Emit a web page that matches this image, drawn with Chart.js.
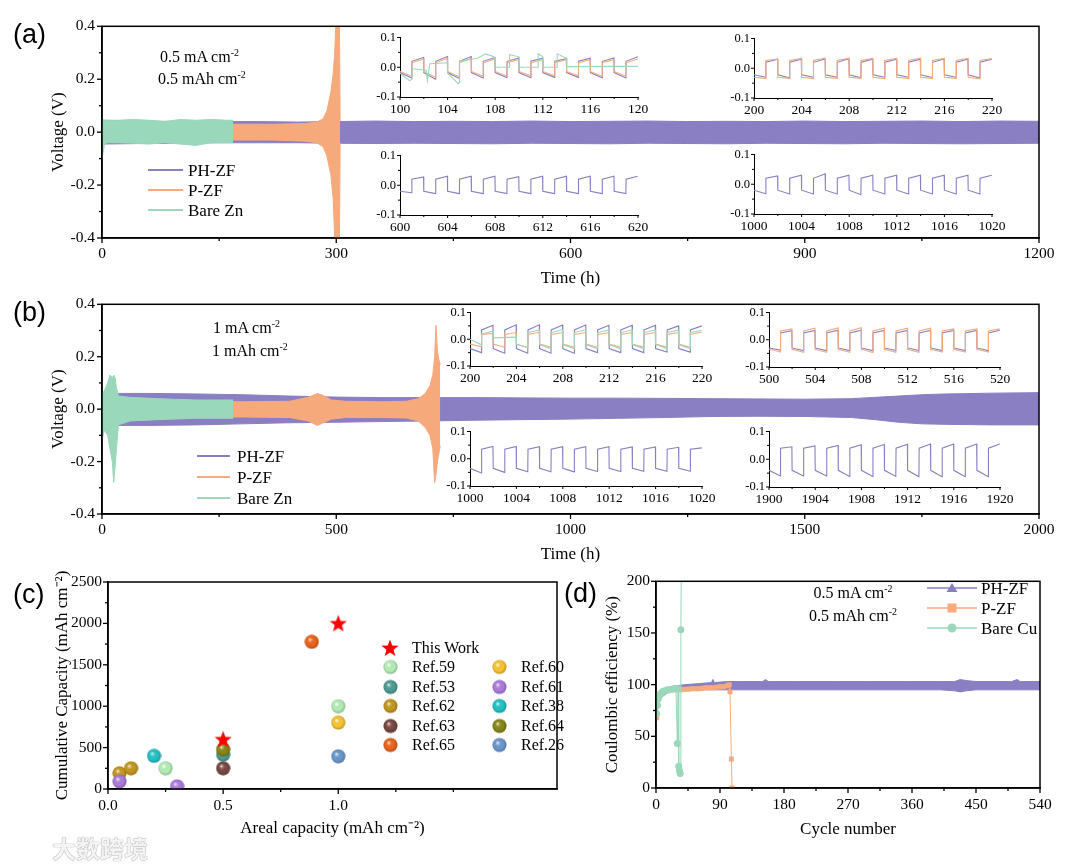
<!DOCTYPE html>
<html>
<head>
<meta charset="utf-8">
<script src="https://cdn.jsdelivr.net/npm/chart.js@4.4.1/dist/chart.umd.min.js"></script>
<style>
body { margin: 0; background: #fff; }
#fig { position: relative; width: 1080px; height: 865px; overflow: hidden; font-family: 'Liberation Serif', 'Times New Roman', serif; color: #000; }
#fig canvas { position: absolute; }
.t { position: absolute; white-space: nowrap; line-height: 1; transform: translateY(-50%); }
.ln { position: absolute; height: 0; }
sup { font-size: 0.62em; vertical-align: 0.6em; line-height: 0; }
</style>
</head>
<body>
<div id="fig"></div>
<script>
// ---- (a) 0.5 mA cm-2 symmetric cells: voltage envelopes (V) ----
const aPhT = [0, 50, 100, 150, 200, 250, 300, 350, 400, 450, 500, 550, 600, 650, 700, 750, 800, 850, 900, 950, 1000, 1050, 1100, 1150, 1200];
const aPhHi = [0.045, 0.042, 0.04, 0.04, 0.04, 0.038, 0.04, 0.042, 0.04, 0.041, 0.04, 0.042, 0.04, 0.041, 0.042, 0.04, 0.041, 0.04, 0.042, 0.04, 0.041, 0.042, 0.04, 0.042, 0.041];
const aPhLo = [-0.045, -0.043, -0.042, -0.04, -0.04, -0.04, -0.042, -0.043, -0.042, -0.043, -0.044, -0.042, -0.043, -0.044, -0.042, -0.043, -0.044, -0.042, -0.043, -0.044, -0.042, -0.043, -0.044, -0.043, -0.042];
const aPzT = [0, 170, 220, 260, 275, 283, 288, 293, 296, 298, 300, 302, 304, 305];
const aPzHi = [0.03, 0.03, 0.03, 0.033, 0.038, 0.05, 0.08, 0.15, 0.22, 0.3, 0.45, 0.45, 0.45, 0.04];
const aPzLo = [-0.03, -0.03, -0.03, -0.034, -0.04, -0.055, -0.09, -0.16, -0.25, -0.4, -0.45, -0.45, -0.45, -0.04];
const aBzT = [0, 3, 6, 20, 40, 60, 80, 100, 120, 140, 160, 168];
const aBzHi = [0.05, 0.045, 0.045, 0.045, 0.048, 0.045, 0.04, 0.048, 0.045, 0.048, 0.045, 0.045];
const aBzLo = [-0.1, -0.05, -0.04, -0.04, -0.042, -0.045, -0.04, -0.045, -0.05, -0.04, -0.04, -0.04];

// ---- (b) 1 mA cm-2 ----
const bPhT = [0, 30, 100, 200, 300, 400, 500, 600, 700, 800, 900, 1000, 1100, 1200, 1300, 1400, 1500, 1600, 1650, 1700, 1750, 1800, 1900, 2000];
const bPhHi = [0.055, 0.06, 0.06, 0.058, 0.055, 0.05, 0.046, 0.044, 0.044, 0.044, 0.043, 0.042, 0.042, 0.041, 0.04, 0.039, 0.038, 0.04, 0.045, 0.05, 0.055, 0.058, 0.061, 0.063];
const bPhLo = [-0.06, -0.062, -0.062, -0.06, -0.056, -0.052, -0.05, -0.047, -0.045, -0.042, -0.04, -0.038, -0.035, -0.032, -0.028, -0.027, -0.028, -0.032, -0.04, -0.05, -0.056, -0.058, -0.06, -0.06];
const bPzT = [0, 100, 200, 300, 400, 440, 460, 475, 490, 520, 600, 650, 675, 690, 700, 706, 710, 713, 716, 719, 722];
const bPzHi = [0.03, 0.03, 0.03, 0.028, 0.03, 0.045, 0.06, 0.05, 0.035, 0.03, 0.028, 0.03, 0.04, 0.06, 0.09, 0.13, 0.2, 0.32, 0.22, 0.19, 0.17];
const bPzLo = [-0.03, -0.03, -0.03, -0.03, -0.032, -0.045, -0.062, -0.05, -0.038, -0.032, -0.032, -0.034, -0.045, -0.07, -0.1, -0.15, -0.28, -0.25, -0.2, -0.17, -0.14];
const bBzT = [0, 5, 12, 17, 22, 25, 28, 31, 35, 60, 120, 200, 280];
const bBzHi = [0.06, 0.07, 0.1, 0.13, 0.12, 0.13, 0.12, 0.08, 0.05, 0.045, 0.04, 0.035, 0.035];
const bBzLo = [-0.12, -0.08, -0.1, -0.15, -0.2, -0.28, -0.22, -0.15, -0.06, -0.045, -0.04, -0.035, -0.035];

// ---- insets: per cycle (1 h negative, 1 h positive) start levels and end values ----
const a1PhBase = [-0.018, 0.02];
const a1PhTop = [0.033, 0.036, 0.036, 0.033, 0.031, 0.03, 0.029, 0.03, 0.031, 0.035];
const a1PhBot = [-0.036, -0.04, -0.038, -0.036, -0.035, -0.035, -0.034, -0.034, -0.035, -0.036];
const a1PzBase = [-0.014, 0.015];
const a1PzTop = [0.028, 0.03, 0.03, 0.028, 0.026, 0.025, 0.025, 0.025, 0.026, 0.028];
const a1PzBot = [-0.03, -0.034, -0.032, -0.03, -0.03, -0.029, -0.029, -0.029, -0.03, -0.03];
const a1BzT = [100, 100.8, 101, 101.01, 102.2, 102.3, 102.5, 104, 104.01, 104.9, 105, 105.01, 106.5, 107.2, 107.9, 108, 108.01, 109.2, 109.21, 110, 110.01, 111.6, 111.61, 112, 112.01, 113.2, 113.21, 114, 114.01, 120];
const a1BzV = [-0.02, -0.045, -0.04, -0.005, -0.01, -0.045, 0.012, 0.015, -0.02, -0.055, -0.05, 0.02, 0.03, 0.045, 0.035, 0.03, 0.0, 0.0, 0.042, 0.035, 0.0, 0.0, 0.045, 0.035, 0.0, 0.0, 0.045, 0.03, 0.002, 0.003];

const a2PhBase = [-0.022, 0.02];
const a2PhTop = [0.03, 0.03, 0.031, 0.032, 0.03, 0.03, 0.03, 0.031, 0.03, 0.03];
const a2PhBot = [-0.03, -0.032, -0.03, -0.03, -0.032, -0.03, -0.03, -0.031, -0.03, -0.033];
const a2PzBase = [-0.03, 0.026];
const a2PzTop = [0.031, 0.033, 0.034, 0.034, 0.033, 0.033, 0.034, 0.033, 0.033, 0.033];
const a2PzBot = [-0.034, -0.034, -0.035, -0.034, -0.034, -0.035, -0.034, -0.034, -0.034, -0.036];

const a3PhBase = [-0.02, 0.02];
const a3PhTop = [0.028, 0.03, 0.03, 0.03, 0.029, 0.03, 0.03, 0.03, 0.03, 0.03];
const a3PhBot = [-0.025, -0.028, -0.028, -0.028, -0.028, -0.028, -0.028, -0.028, -0.028, -0.028];

const a4PhBase = [-0.02, 0.02];
const a4PhTop = [0.028, 0.03, 0.035, 0.03, 0.03, 0.03, 0.03, 0.03, 0.03, 0.03];
const a4PhBot = [-0.032, -0.033, -0.033, -0.033, -0.035, -0.033, -0.033, -0.033, -0.033, -0.033];

const b1PhBase = [-0.035, 0.035];
const b1PhTop = [0.052, 0.054, 0.054, 0.053, 0.053, 0.052, 0.052, 0.052, 0.05, 0.05];
const b1PhBot = [-0.05, -0.052, -0.052, -0.052, -0.052, -0.05, -0.05, -0.05, -0.048, -0.048];
const b1PzBase = [-0.018, 0.018];
const b1PzTop = [0.022, 0.025, 0.026, 0.025, 0.025, 0.025, 0.025, 0.025, 0.025, 0.027];
const b1PzBot = [-0.028, -0.03, -0.032, -0.03, -0.03, -0.03, -0.03, -0.03, -0.03, -0.03];
const b1BzHeadT = [200, 200.95, 201, 201.95, 202, 204];
const b1BzHeadV = [0.0, -0.02, 0.02, 0.03, 0.005, 0.008];
const b1BzBase = [-0.02, 0.025];
const b1BzTop = [0.035, 0.036, 0.036, 0.035, 0.035, 0.035, 0.034, 0.033];
const b1BzBot = [-0.03, -0.035, -0.035, -0.035, -0.035, -0.035, -0.035, -0.035];

const b2PhBase = [-0.03, 0.025];
const b2PhTop = [0.033, 0.034, 0.035, 0.035, 0.034, 0.034, 0.034, 0.034, 0.034, 0.035];
const b2PhBot = [-0.038, -0.04, -0.04, -0.04, -0.04, -0.04, -0.04, -0.04, -0.04, -0.04];
const b2PzBase = [-0.035, 0.032];
const b2PzTop = [0.04, 0.042, 0.043, 0.044, 0.042, 0.042, 0.042, 0.04, 0.04, 0.04];
const b2PzBot = [-0.045, -0.046, -0.046, -0.046, -0.047, -0.046, -0.046, -0.045, -0.045, -0.045];

const b3PhBase = [-0.035, 0.035];
const b3PhTop = [0.045, 0.045, 0.044, 0.044, 0.044, 0.044, 0.043, 0.043, 0.042, 0.04];
const b3PhBot = [-0.052, -0.05, -0.048, -0.048, -0.048, -0.047, -0.047, -0.046, -0.046, -0.046];

const b4PhBase = [-0.04, 0.04];
const b4PhTop = [0.045, 0.048, 0.05, 0.052, 0.053, 0.054, 0.055, 0.055, 0.055, 0.055];
const b4PhBot = [-0.06, -0.06, -0.06, -0.062, -0.062, -0.062, -0.063, -0.063, -0.063, -0.063];

// ---- (c) cumulative capacity comparison ----
const cNames = ['Ref.59', 'Ref.53', 'Ref.62', 'Ref.63', 'Ref.65', 'Ref.60', 'Ref.61', 'Ref.38', 'Ref.64', 'Ref.26'];
const cColors = ['#b9f3bb', '#4f9f98', '#c99a1e', '#7a4a44', '#f0661c', '#ffc933', '#b17ee0', '#22c6c9', '#8a8a16', '#6b9bd2'];
const cX = [[0.25, 1.0], [0.5], [0.05, 0.1], [0.5], [0.885], [1.0], [0.05, 0.3], [0.2], [0.5], [1.0]];
const cY = [[250, 1000], [415], [190, 250], [250], [1777], [802], [92, 32], [400], [478], [395]];
const starX = [0.5, 1.0];
const starY = [600, 2000];

// ---- (d) Coulombic efficiency (%) ----
const dPhC = [1, 3, 5, 8, 12, 16, 20, 30, 40, 60, 78, 80, 82, 100, 120, 150, 154, 158, 200, 250, 300, 350, 400, 420, 428, 436, 450, 500, 508, 512, 540];
const dPhHi = [74, 86, 90, 93, 95, 97, 98, 99, 100, 101, 102, 105, 102, 103, 103, 103, 105, 103, 103, 103, 103, 103, 103, 103, 105, 104, 103, 103, 105, 103, 103];
const dPhLo = [68, 80, 85, 88, 90, 92, 93, 94, 95, 95, 95, 95, 95, 95, 95, 95, 95, 95, 95, 95, 95, 95, 95, 94, 93, 94, 95, 95, 95, 95, 95];
const dPzC = [1, 2, 4, 6, 9, 12, 16, 20, 25, 30, 35, 40, 45, 50, 55, 60, 65, 70, 75, 80, 85, 90, 95, 100, 103, 104, 106, 107];
const dPzV = [68, 80, 87, 90, 92, 93, 94, 94.5, 95, 95, 95, 95.5, 95.5, 96, 96, 96, 96.5, 97, 97, 97, 97.5, 98, 98, 99, 100, 93, 28, 0];
const dBzC = [1, 2, 3, 4, 6, 8, 10, 13, 16, 19, 22, 25, 28, 30, 31, 32, 33, 34, 35, 36];
const dBzV = [72, 80, 86, 89, 91, 92.5, 93.5, 94, 95, 95, 95.5, 96, 96, 43, 96, 21, 17, 14, 153, 260];

const purple = '#8a7fc2', orange = '#f6aa7c', green = '#9ad8bb';

Chart.defaults.font.family = "'Liberation Serif', 'Times New Roman', serif";
Chart.defaults.color = '#000';

const fig = document.getElementById('fig');

function pts(xs, ys) { return xs.map((x, i) => ({x: x, y: ys[i]})); }
function near(v, m) { const q = v / m; return Math.abs(q - Math.round(q)) < 1e-6; }
function fmt1(v) { return (Math.abs(v) < 1e-9 ? 0 : v).toFixed(1); }

function band(xs, hi, lo, color, order) {
  return [
    {data: pts(xs, hi), borderColor: color, borderWidth: 1, pointRadius: 0, fill: false, order: order},
    {data: pts(xs, lo), borderColor: color, borderWidth: 1, pointRadius: 0, fill: '-1', backgroundColor: color, order: order}
  ];
}

function wave(t0, base, tops, bots) {
  const out = [];
  tops.forEach((top, k) => {
    const t = t0 + 2 * k;
    out.push({x: t, y: base[0]}, {x: t + 0.98, y: bots[k]}, {x: t + 1, y: base[1]}, {x: t + 1.98, y: top});
  });
  return out;
}

function line(data, color, order) {
  return {data: data, borderColor: color, borderWidth: 1.1, pointRadius: 0, fill: false, order: order};
}

// tick marks: long for labelled ticks, short for minor ones
const tickMarks = {
  id: 'tickMarks',
  afterDraw(ch, args, o) {
    const ctx = ch.ctx;
    ctx.save();
    ctx.strokeStyle = '#000';
    ctx.lineWidth = o.width;
    Object.values(ch.scales).forEach(s => {
      s.ticks.forEach(t => {
        const p = s.getPixelForValue(t.value);
        const len = t.label === '' ? o.minor : o.major;
        ctx.beginPath();
        if (s.isHorizontal()) { ctx.moveTo(p, s.top); ctx.lineTo(p, s.top + len); }
        else { ctx.moveTo(s.right, p); ctx.lineTo(s.right - len, p); }
        ctx.stroke();
      });
    });
    ctx.restore();
  }
};

const frame = {
  id: 'frame',
  afterDraw(ch, args, o) {
    if (!o.on) return;
    const a = ch.chartArea, ctx = ch.ctx;
    ctx.save();
    ctx.strokeStyle = '#000';
    ctx.lineWidth = o.width;
    ctx.strokeRect(a.left, a.top, a.right - a.left, a.bottom - a.top);
    ctx.restore();
  }
};

function axis(o) {
  const ax = {
    type: 'linear', min: o.min, max: o.max,
    afterBuildTicks: s => { s.ticks = s.ticks.filter(t => near(t.value, o.step)); },
    ticks: {
      stepSize: o.step, autoSkip: false, maxRotation: 0, padding: o.lpad, color: '#000',
      font: {size: o.size},
      callback: v => near(v, o.major) ? o.fmt(v) : ''
    },
    grid: {display: true, drawOnChartArea: false, drawTicks: false},
    border: {display: true, color: '#000', width: o.bw}
  };
  if (o.title) ax.title = {display: true, text: o.title, color: '#000', font: {size: 17}, padding: o.tpad};
  return ax;
}

function panel(box, pad, type, datasets, xAx, yAx, plug) {
  const c = document.createElement('canvas');
  const L = box.l - pad.l, T = box.t - pad.t;
  const W = box.r + pad.r - L, H = box.b + pad.b - T;
  c.width = W; c.height = H;
  Object.assign(c.style, {left: L + 'px', top: T + 'px', width: W + 'px', height: H + 'px'});
  fig.appendChild(c);
  xAx.afterFit = s => { s.height = pad.b; };
  yAx.afterFit = s => { s.width = pad.l; };
  return new Chart(c, {
    type: type,
    data: {datasets: datasets},
    options: {
      responsive: false, animation: false, events: [],
      layout: {padding: {left: 0, top: pad.t, right: pad.r, bottom: 0}},
      scales: {x: xAx, y: yAx},
      plugins: Object.assign({legend: {display: false}, tooltip: {enabled: false}}, plug)
    },
    plugins: [tickMarks, frame]
  });
}

const mainPlug = {tickMarks: {major: 5, minor: 3, width: 1.3}, frame: {on: true, width: 1.5}};
const insetPlug = {tickMarks: {major: 3, minor: 2, width: 1}, frame: {on: false}};

// (a)
panel({l: 102, t: 22, r: 1039, b: 238}, {l: 102, t: 12, r: 30, b: 52}, 'line',
  [...band(aBzT, aBzHi, aBzLo, green, 1), ...band(aPzT, aPzHi, aPzLo, orange, 2), ...band(aPhT, aPhHi, aPhLo, purple, 3)],
  axis({min: 0, max: 1200, step: 150, major: 300, fmt: String, size: 15.5, lpad: 7, bw: 1.5, title: 'Time (h)', tpad: {top: 0, bottom: 1}}),
  axis({min: -0.4, max: 0.4, step: 0.1, major: 0.2, fmt: fmt1, size: 15.5, lpad: 7, bw: 1.5, title: 'Voltage (V)', tpad: {top: 48, bottom: 0}}),
  mainPlug);

// (b)
panel({l: 102, t: 300, r: 1039, b: 514}, {l: 102, t: 12, r: 30, b: 52}, 'line',
  [...band(bBzT, bBzHi, bBzLo, green, 1), ...band(bPzT, bPzHi, bPzLo, orange, 2), ...band(bPhT, bPhHi, bPhLo, purple, 3)],
  axis({min: 0, max: 2000, step: 250, major: 500, fmt: String, size: 15.5, lpad: 7, bw: 1.5, title: 'Time (h)', tpad: {top: 0, bottom: 1}}),
  axis({min: -0.4, max: 0.4, step: 0.1, major: 0.2, fmt: fmt1, size: 15.5, lpad: 7, bw: 1.5, title: 'Voltage (V)', tpad: {top: 48, bottom: 0}}),
  mainPlug);

// insets
function inset(box, x0, x1, datasets) {
  return panel(box, {l: 36, t: 8, r: 20, b: 20}, 'line', datasets,
    axis({min: x0, max: x1, step: 2, major: 4, fmt: String, size: 13.5, lpad: 4, bw: 1}),
    axis({min: -0.1, max: 0.1, step: 0.05, major: 0.1, fmt: fmt1, size: 12.5, lpad: 4, bw: 1}),
    insetPlug);
}
inset({l: 400, t: 34, r: 638, b: 97}, 100, 120, [
  line(pts(a1BzT, a1BzV), green, 0),
  line(wave(100, a1PzBase, a1PzTop, a1PzBot), orange, 1),
  line(wave(100, a1PhBase, a1PhTop, a1PhBot), purple, 2)]);
inset({l: 754, t: 35, r: 992, b: 98}, 200, 220, [
  line(wave(200, a2PzBase, a2PzTop, a2PzBot), orange, 1),
  line(wave(200, a2PhBase, a2PhTop, a2PhBot), purple, 2)]);
inset({l: 400, t: 152, r: 638, b: 215}, 600, 620, [
  line(wave(600, a3PhBase, a3PhTop, a3PhBot), purple, 2)]);
inset({l: 754, t: 151, r: 992, b: 214}, 1000, 1020, [
  line(wave(1000, a4PhBase, a4PhTop, a4PhBot), purple, 2)]);
inset({l: 470, t: 309, r: 702, b: 366}, 200, 220, [
  line(pts(b1BzHeadT, b1BzHeadV).concat(wave(204, b1BzBase, b1BzTop, b1BzBot)), green, 0),
  line(wave(200, b1PzBase, b1PzTop, b1PzBot), orange, 1),
  line(wave(200, b1PhBase, b1PhTop, b1PhBot), purple, 2)]);
inset({l: 769, t: 309, r: 1000, b: 367}, 500, 520, [
  line(wave(500, b2PzBase, b2PzTop, b2PzBot), orange, 1),
  line(wave(500, b2PhBase, b2PhTop, b2PhBot), purple, 2)]);
inset({l: 470, t: 428, r: 702, b: 486}, 1000, 1020, [
  line(wave(1000, b3PhBase, b3PhTop, b3PhBot), purple, 2)]);
inset({l: 769, t: 428, r: 1000, b: 487}, 1900, 1920, [
  line(wave(1900, b4PhBase, b4PhTop, b4PhBot), purple, 2)]);

// (c) shaded balls and star markers
function ball(color, d) {
  const c = document.createElement('canvas');
  c.width = c.height = d;
  const g = c.getContext('2d'), r = d / 2;
  g.fillStyle = color;
  g.beginPath(); g.arc(r, r, r - 0.5, 0, 2 * Math.PI); g.fill();
  const gr = g.createRadialGradient(r * 0.72, r * 0.66, 0, r, r, r);
  gr.addColorStop(0, 'rgba(255,255,255,0.95)');
  gr.addColorStop(0.22, 'rgba(255,255,255,0.25)');
  gr.addColorStop(0.6, 'rgba(0,0,0,0)');
  gr.addColorStop(1, 'rgba(0,0,0,0.28)');
  g.fillStyle = gr;
  g.beginPath(); g.arc(r, r, r - 0.5, 0, 2 * Math.PI); g.fill();
  return c;
}
function star(color, d) {
  const c = document.createElement('canvas');
  c.width = c.height = d;
  const g = c.getContext('2d'), r = d / 2;
  g.fillStyle = color;
  g.beginPath();
  for (let i = 0; i < 10; i++) {
    const rr = i % 2 ? r * 0.42 : r;
    const a = -Math.PI / 2 + i * Math.PI / 5;
    g.lineTo(r + rr * Math.cos(a), r + 0.6 + rr * Math.sin(a));
  }
  g.closePath(); g.fill();
  return c;
}
const balls = cColors.map(col => ball(col, 15));
const starImg = star('#ff0000', 18);

const cSets = cNames.map((n, i) => ({
  label: n, data: pts(cX[i], cY[i]), pointStyle: balls[i], pointRadius: 7, order: 20 - i
}));
cSets.push({label: 'This Work', data: pts(starX, starY), pointStyle: starImg, pointRadius: 8, order: 0});
panel({l: 108, t: 582, r: 557, b: 789}, {l: 108, t: 30, r: 20, b: 50}, 'scatter', cSets,
  axis({min: 0, max: 1.95, step: 0.25, major: 0.5, fmt: v => v <= 1.0001 ? v.toFixed(1) : '', size: 15.5, lpad: 8, bw: 1.5, title: 'Areal capacity (mAh cm\u207B\u00B2)', tpad: {top: 0, bottom: 0}}),
  axis({min: 0, max: 2500, step: 250, major: 500, fmt: String, size: 15.5, lpad: 6, bw: 1.5, title: 'Cumulative Capacity (mAh cm\u207B\u00B2)', tpad: {top: 52, bottom: 0}}),
  mainPlug);

// (d)
panel({l: 656, t: 576, r: 1040, b: 788}, {l: 66, t: 10, r: 20, b: 52}, 'line', [
  {data: pts(dBzC, dBzV), borderColor: green, backgroundColor: green, borderWidth: 1, pointStyle: 'circle', pointRadius: 3.5, pointBorderWidth: 0, fill: false, order: 0},
  {data: pts(dPzC, dPzV), borderColor: orange, backgroundColor: orange, borderWidth: 1, pointStyle: 'rect', pointRadius: 3.5, pointBorderWidth: 0, fill: false, order: 1},
  ...band(dPhC, dPhHi, dPhLo, purple, 2)],
  axis({min: 0, max: 540, step: 45, major: 90, fmt: String, size: 15.5, lpad: 8, bw: 1.5, title: 'Cycle number', tpad: {top: 0, bottom: 0}}),
  axis({min: 0, max: 200, step: 25, major: 50, fmt: String, size: 15.5, lpad: 6, bw: 1.5, title: 'Coulombic efficiency (%)', tpad: {top: 12, bottom: 0}}),
  mainPlug);

// ---- text overlays ----
function txt(html, x, y, size, extra) {
  const d = document.createElement('div');
  d.className = 't';
  d.innerHTML = html;
  d.style.left = x + 'px';
  d.style.top = y + 'px';
  d.style.fontSize = size + 'px';
  if (extra) Object.assign(d.style, extra);
  fig.appendChild(d);
  return d;
}
function seg(x, y, w, color) {
  const d = document.createElement('div');
  d.className = 'ln';
  Object.assign(d.style, {left: x + 'px', top: (y - 1) + 'px', width: w + 'px', borderTop: '2px solid ' + color});
  fig.appendChild(d);
}
const sans = {fontFamily: "'Liberation Sans', Arial, sans-serif"};
txt('(a)', 13, 34, 27, sans);
txt('(b)', 13, 312, 27, sans);
txt('(c)', 13, 594, 27, sans);
txt('(d)', 564, 593, 27, sans);

txt('0.5 mA cm<sup>-2</sup>', 160, 57, 16);
txt('0.5 mAh cm<sup>-2</sup>', 158, 79, 16);
txt('1 mA cm<sup>-2</sup>', 213, 328, 16);
txt('1 mAh cm<sup>-2</sup>', 212, 351, 16);
txt('0.5 mA cm<sup>-2</sup>', 853, 593, 16, {transform: 'translate(-50%,-50%)'});
txt('0.5 mAh cm<sup>-2</sup>', 853, 616, 16, {transform: 'translate(-50%,-50%)'});

const legNames = ['PH-ZF', 'P-ZF', 'Bare Zn'];
const legColors = [purple, orange, green];
legNames.forEach((n, i) => {
  seg(148, 170 + 20 * i, 35, legColors[i]);
  txt(n, 188, 170 + 20 * i, 17);
  seg(197, 456 + 21 * i, 33, legColors[i]);
  txt(n, 237, 456 + 21 * i, 17);
});

// (d) legend with markers
const dLegNames = ['PH-ZF', 'P-ZF', 'Bare Cu'];
const dMarks = [
  '<polygon points="25,1 30.5,10 19.5,10" fill="' + purple + '"/>',
  '<rect x="20.5" y="1.5" width="9" height="9" fill="' + orange + '"/>',
  '<circle cx="25" cy="6" r="4.5" fill="' + green + '"/>'
];
dLegNames.forEach((n, i) => {
  const y = 588 + 20 * i;
  txt('<svg width="50" height="12" style="display:block"><line x1="0" y1="6" x2="50" y2="6" stroke="' + legColors[i] + '" stroke-width="1.3"/>' + dMarks[i] + '</svg>', 927, y, 12);
  txt(n, 981, y, 17);
});

// (c) legend
txt('<img src="' + starImg.toDataURL() + '" style="display:block">', 381, 648, 12);
txt('This Work', 412, 648, 16);
cNames.forEach((n, i) => {
  const col = i < 5 ? 0 : 1, row = i % 5;
  const y = 667 + 19.5 * row;
  txt('<img src="' + balls[i].toDataURL() + '" style="display:block">', col ? 492 : 383, y, 12);
  txt(n, col ? 521 : 412, y, 16);
});

// watermark
txt('大数跨境', 52, 848, 24, {fontFamily: "'Noto Sans CJK SC', sans-serif", fontWeight: 'bold', color: '#f4f4f4', textShadow: '0 0 1px #9a9a9a, 0 0 1px #9a9a9a'});
</script>
</body>
</html>
